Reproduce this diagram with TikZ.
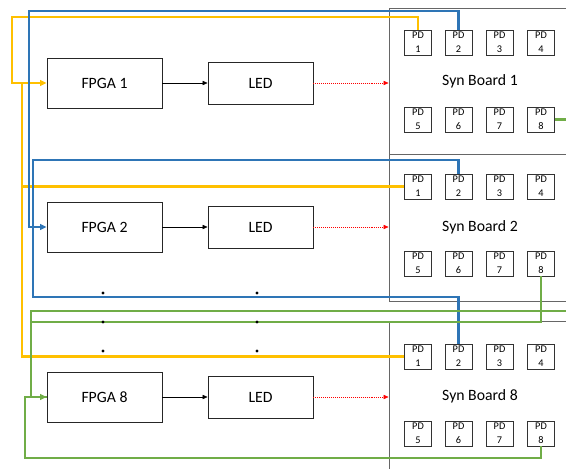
\documentclass[tikz,border=0pt]{standalone}
\usepackage{fontspec}
\setmainfont{Carlito}
\usetikzlibrary{arrows.meta,positioning,calc}
\definecolor{wireyellow}{HTML}{FFC000}
\definecolor{wireblue}{HTML}{2E75B6}
\definecolor{wiregreen}{HTML}{70AD47}
\tikzset{
  unit/.style={draw=black!85, line width=0.6pt, minimum width=2.875cm, minimum height=1.25cm, font=\fontsize{11.2}{13}\selectfont},
  ledbox/.style={unit, minimum width=2.625cm, minimum height=1.05cm},
  synboard/.style={draw=black!60, line width=0.6pt, minimum width=4.55cm, font=\fontsize{11.2}{13}\selectfont},
  pd/.style={draw=black!80, line width=0.5pt, minimum width=0.675cm, minimum height=0.625cm, inner sep=0pt, align=center, font=\fontsize{7.3}{9.8}\selectfont},
  wire/.style={line width=1.7pt},
  tip/.style={-{Triangle[length=4.5pt,width=4pt]}}
}

\begin{document}
\begin{tikzpicture}[x=0.025cm, y=-0.025cm]
\useasboundingbox (0,0) rectangle (566,468);
% sync boards
\node[synboard, minimum height=3.65cm] (sb1) at (480,81) {Syn Board 1};
\node[synboard, minimum height=3.675cm] (sb2) at (480,227.5) {Syn Board 2};
\node[synboard, minimum height=3.75cm] (sb8) at (480,396) {Syn Board 8};
% one row per FPGA
\foreach \n/\y in {1/83,2/227,8/397}{
  \node[unit] (fpga\n) at (104.5,\y) {FPGA \n};
  \node[ledbox] (led\n) at (260.5,\y) {LED};
  \foreach \c [count=\i] in {418,458.5,499.5,541}{
    \pgfmathtruncatemacro\j{\i+4}
    \node[pd] (pd\n-\i) at (\c,\y-40.5) {PD\\\i};
    \node[pd] (pd\n-\j) at (\c,\y+36.5) {PD\\\j};
  }
  \draw[line width=0.4pt, -{Triangle[length=3.5pt,width=3pt]}] (fpga\n) -- (led\n);
  \draw[red, line width=0.4pt, densely dotted, -{Triangle[length=3.5pt,width=3pt]}] (led\n) -- (led\n -| sb\n.west);
}
% wire rails
\coordinate (yrail) at (22,0);
\coordinate (brail) at (33,0);
\coordinate (grail) at (31,0);
% PD1 wires
\draw[wire, wireyellow, tip] (pd1-1.north) |- (12,17) |- (fpga1.west);
\draw[wire, wireyellow] (yrail |- fpga1.west) |- (pd2-1.west);
\draw[wire, wireyellow] (yrail |- fpga1.west) |- (pd8-1.west);
% PD2 wires
\draw[wire, wireblue, tip] (pd1-2.north) |- (29,11) |- (fpga2.west);
\draw[wire, wireblue] (pd2-2.north) |- (brail |- 0,160) |- (pd8-2.north |- 0,297) -- (pd8-2.north);
% PD8 wires
\draw[wire, wiregreen, tip] (pd1-8.east) -- ++(30,0) |- (grail |- 0,311) |- (fpga8.west);
\draw[wire, wiregreen] (pd2-8.south) |- (grail |- 0,322);
\draw[wire, wiregreen] (pd8-8.south) |- (25,458) |- (fpga8.west);
% dots
\foreach \x in {103,257}
  \foreach \y in {293,322,351}
    \fill (\x,\y) circle (1.1pt);
\end{tikzpicture}
\end{document}
